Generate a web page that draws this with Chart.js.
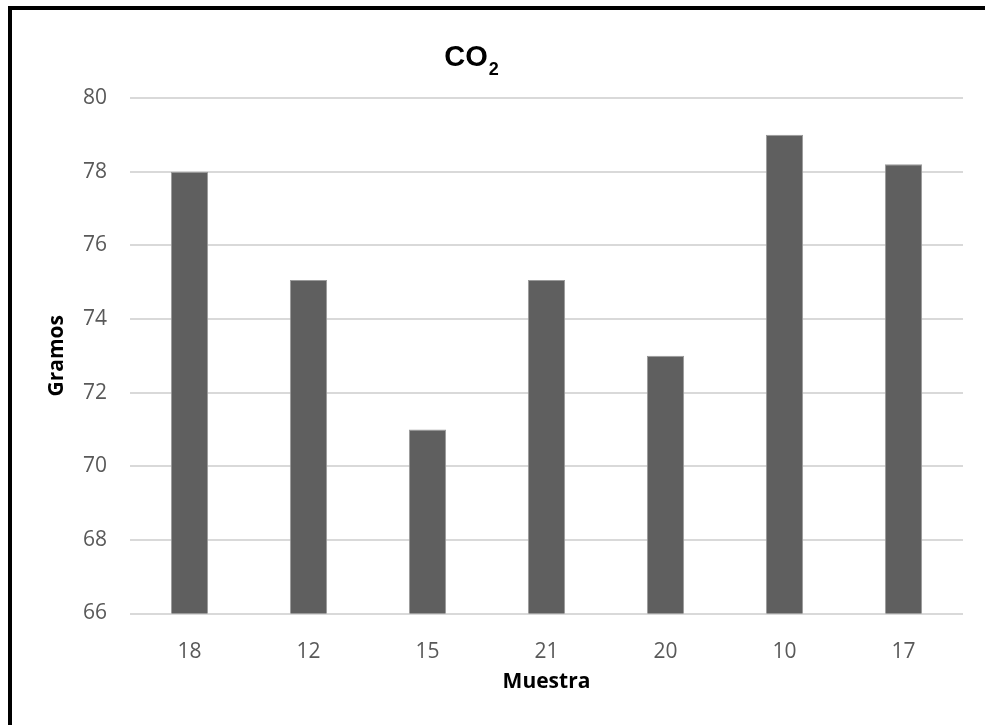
<!DOCTYPE html>
<html>
<head>
<meta charset="utf-8">
<script src="https://cdn.jsdelivr.net/npm/chart.js@4/dist/chart.umd.min.js"></script>
<style>
    html, body { margin: 0; padding: 0; background: #fff; }
    #wrap { position: relative; width: 985px; height: 725px; overflow: hidden; }
    #frame {
        position: absolute; left: 8px; top: 6px; right: -10px; bottom: -10px;
        border-left: 4px solid #000; border-top: 4px solid #000;
        pointer-events: none;
    }
</style>
</head>
<body>
<div id="wrap">
    <canvas id="chart" width="985" height="725"></canvas>
    <div id="frame"></div>
</div>
<script>
// Data
const categories = ['18', '12', '15', '21', '20', '10', '17'];
const gramos = [78.0, 75.06, 71.0, 75.06, 73.0, 79.0, 78.2];
const yMin = 66;
const yMax = 80;
const yStep = 2;

const titleMain = 'CO';
const titleSub = '2';
const yTitle = 'Gramos';
const xTitle = 'Muestra';

const labelColor = '#595959';
const gridColor = '#d9d9d9';

// Title with a real subscript, drawn above the plot area
const subscriptTitle = {
    id: 'subscriptTitle',
    afterDraw(chart) {
        const ctx = chart.ctx;
        const mainFont = 'bold 29px "Liberation Sans", Arial, sans-serif';
        const subFont = 'bold 18px "Liberation Sans", Arial, sans-serif';
        ctx.save();
        ctx.fillStyle = '#000';
        ctx.textBaseline = 'alphabetic';
        ctx.textAlign = 'left';
        ctx.font = mainFont;
        const mainWidth = ctx.measureText(titleMain).width;
        ctx.font = subFont;
        const subWidth = ctx.measureText(titleSub).width;
        const x = 471 - (mainWidth + subWidth) / 2;
        ctx.font = mainFont;
        ctx.fillText(titleMain, x, 66);
        ctx.font = subFont;
        ctx.fillText(titleSub, x + mainWidth + 1, 75);
        ctx.restore();
    }
};

const config = {
    type: 'bar',
    data: {
        labels: categories,
        datasets: [{
            label: 'Gramos',
            data: gramos,
            backgroundColor: '#5f5f5f',
            borderColor: '#9a9a9a',
            borderWidth: 1,
            barPercentage: 0.313,
            categoryPercentage: 1.0
        }]
    },
    options: {
        responsive: false,
        animation: false,
        layout: { padding: { top: 98, right: 22, left: 0, bottom: 0 } },
        plugins: {
            legend: { display: false },
            title: { display: false },
            tooltip: { enabled: false }
        },
        scales: {
            x: {
                grid: { display: false },
                border: { display: false },
                ticks: {
                    color: labelColor,
                    padding: 18,
                    font: { family: '"Open Sans", sans-serif', size: 21 }
                },
                title: {
                    display: true,
                    text: xTitle,
                    color: '#000',
                    padding: { top: 0, bottom: 30 },
                    font: { family: '"Open Sans", sans-serif', size: 21, weight: 'bold' }
                },
                afterFit: (scale) => { scale.height = 111.5; }
            },
            y: {
                min: yMin,
                max: yMax,
                grid: { color: gridColor, lineWidth: 2, drawTicks: false },
                border: { display: false },
                ticks: {
                    stepSize: yStep,
                    color: labelColor,
                    padding: 23,
                    font: { family: '"Open Sans", sans-serif', size: 21 }
                },
                title: {
                    display: true,
                    text: yTitle,
                    color: '#000',
                    padding: { top: 44, bottom: 0 },
                    font: { family: '"Open Sans", sans-serif', size: 21, weight: 'bold' }
                },
                afterFit: (scale) => { scale.width = 130; }
            }
        }
    },
    plugins: [subscriptTitle]
};

new Chart(document.getElementById('chart').getContext('2d'), config);
</script>
</body>
</html>
